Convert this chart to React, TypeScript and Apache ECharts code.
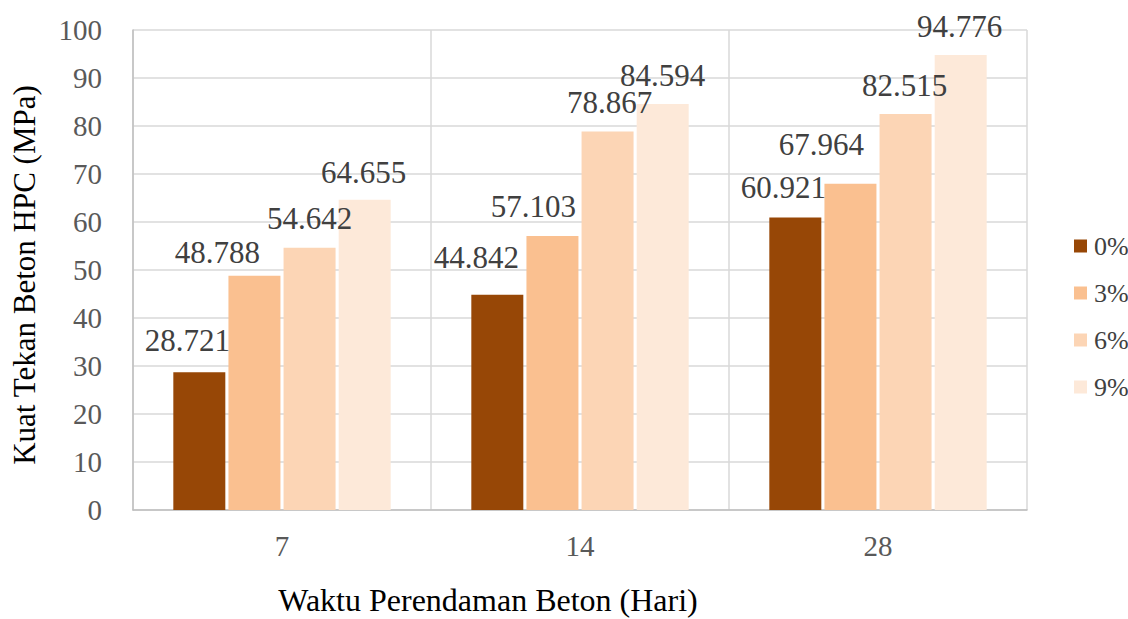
import React, { useEffect, useRef } from "react";
import * as echarts from "echarts";

const categories = ["7", "14", "28"];
const seriesNames = ["0%", "3%", "6%", "9%"];
const values0 = [28.721, 44.842, 60.921];
const values3 = [48.788, 57.103, 67.964];
const values6 = [54.642, 78.867, 82.515];
const values9 = [64.655, 84.594, 94.776];
const yTicks = { min: 0, max: 100, interval: 10 };

const colors = ["#974706", "#FAC090", "#FCD5B5", "#FDE9D9"];
// label nudges (dx, dy) mimicking the reference's label placement
const labelNudges: [number, number][][] = [
  [[-12, -2], [-21, -8], [-12, -1]],
  [[-37, 6], [-19, 0], [-29, -10]],
  [[0, 0], [2, 1], [-1, 1]],
  [[-1, 2], [0, 1], [-1, 1]],
];

const FONT = "Liberation Serif";

export default function App() {
  const ref = useRef<HTMLDivElement>(null);
  useEffect(() => {
    if (!ref.current) return;
    const chart = echarts.init(ref.current, undefined, { renderer: "svg" });
    const all = [values0, values3, values6, values9];
    const series = all.map((vals, si) => ({
      name: seriesNames[si],
      type: "bar",
      barWidth: 52,
      barGap: "6%",
      itemStyle: { color: colors[si] },
      data: vals.map((v, ci) => ({
        value: v,
        label: { offset: labelNudges[si][ci] },
      })),
      label: {
        show: true,
        position: "top",
        distance: 14,
        color: "#404040",
        fontFamily: FONT,
        fontSize: 31,
        lineHeight: 31,
        formatter: (p: any) => Number(p.value).toFixed(3),
      },
    }));
    chart.setOption({
      animation: false,
      backgroundColor: "#ffffff",
      textStyle: { fontFamily: FONT },
      grid: { left: 133, right: 101, top: 30, bottom: 109, containLabel: false },
      xAxis: {
        type: "category",
        data: categories,
        axisLine: { show: true, lineStyle: { color: "#BFBFBF", width: 1.5 } },
        axisTick: { show: false },
        splitLine: { show: true, lineStyle: { color: "#D9D9D9", width: 1.5 } },
        axisLabel: { color: "#595959", fontFamily: FONT, fontSize: 29, margin: 21 },
      },
      yAxis: {
        type: "value",
        min: yTicks.min,
        max: yTicks.max,
        interval: yTicks.interval,
        axisLine: { show: true, lineStyle: { color: "#BFBFBF", width: 1.5 } },
        axisTick: { show: false },
        splitLine: { show: true, lineStyle: { color: "#D9D9D9", width: 1.5 } },
        axisLabel: { color: "#595959", fontFamily: FONT, fontSize: 29, margin: 31 },
      },
      legend: {
        orient: "vertical",
        left: 1069,
        top: 227,
        icon: "rect",
        itemWidth: 13,
        itemHeight: 13,
        itemGap: 19,
        data: seriesNames,
        textStyle: { color: "#404040", fontFamily: FONT, fontSize: 26, lineHeight: 28, padding: [0, 0, 0, 2] },
      },
      graphic: [
        {
          type: "text",
          x: 24,
          y: 275,
          rotation: Math.PI / 2,
          style: {
            text: "Kuat Tekan Beton HPC (MPa)",
            fill: "#000000",
            fontFamily: FONT,
            fontSize: 31,
            textAlign: "center",
            textVerticalAlign: "middle",
          },
        },
        {
          type: "text",
          x: 488,
          y: 600,
          style: {
            text: "Waktu Perendaman Beton (Hari)",
            fill: "#000000",
            fontFamily: FONT,
            fontSize: 32,
            textAlign: "center",
            textVerticalAlign: "middle",
          },
        },
      ],
      series,
    });
    return () => chart.dispose();
  }, []);
  return (
    <div
      ref={ref}
      style={{ position: "absolute", left: 0, top: 0, width: 1128, height: 619 }}
    />
  );
}
